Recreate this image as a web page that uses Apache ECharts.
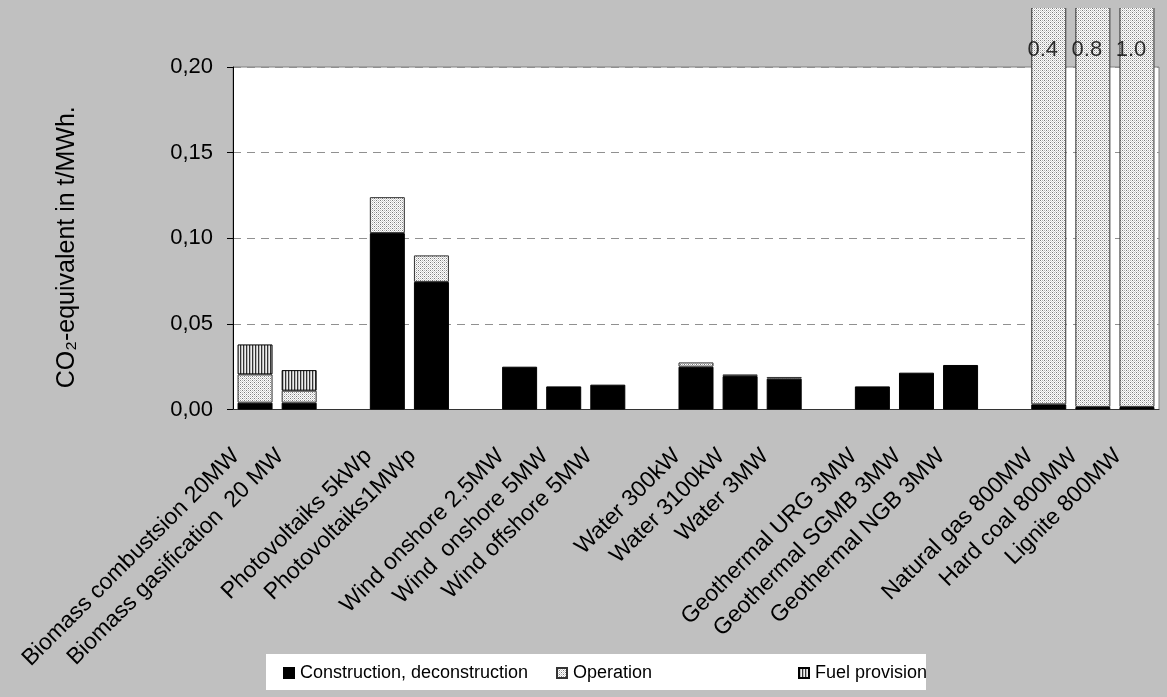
<!DOCTYPE html>
<html>
<head>
<meta charset="utf-8">
<script src="https://cdn.jsdelivr.net/npm/echarts@6/dist/echarts.min.js"></script>
<style>
html,body{margin:0;padding:0;background:#c0c0c0;width:1167px;height:697px;overflow:hidden;}
#chart{position:absolute;left:0;top:8px;width:1167px;height:689px;}
</style>
</head>
<body>
<div id="chart"></div>
<script>
// ---- data ----
const categories = ['Biomass combustsion 20MW','Biomass gasification  20 MW','',
  'Photovoltaiks 5kWp','Photovoltaiks1MWp','',
  'Wind onshore 2,5MW','Wind  onshore 5MW','Wind offshore 5MW','',
  'Water 300kW','Water 3100kW','Water 3MW','',
  'Geothermal URG 3MW','Geothermal SGMB 3MW','Geothermal NGB 3MW','',
  'Natural gas 800MW','Hard coal 800MW','Lignite 800MW'];
const construction = [0.004,0.004,null, 0.103,0.0745,null, 0.025,0.0135,0.0145,null, 0.025,0.0195,0.018,null, 0.0135,0.0215,0.026,null, 0.003,0.0015,0.0015];
const operation    = [0.0165,0.007,null, 0.021,0.0155,null, null,null,null,null, 0.0025,0.001,0.001,null, null,null,null,null, 0.397,0.7985,0.9985];
const fuel         = [0.0175,0.012,null, null,null,null, null,null,null,null, null,null,null,null, null,null,null,null, null,null,null];
const totalLabels  = ['0.4','0.8','1.0'];
const totalLabelCats = ['Natural gas 800MW','Hard coal 800MW','Lignite 800MW'];
const yTicks = ['0,00','0,05','0,10','0,15','0,20'];
const seriesNames = ['Construction, deconstruction','Operation','Fuel provision'];

// ---- patterns ----
function makeTile(w, h, draw){
  const c = document.createElement('canvas'); c.width = w; c.height = h;
  const ctx = c.getContext('2d'); draw(ctx); return c;
}
const dotTile = makeTile(4,4,ctx=>{
  ctx.fillStyle='#ffffff'; ctx.fillRect(0,0,4,4);
  ctx.fillStyle='#7a7a7a'; ctx.fillRect(0,0,1,1); ctx.fillRect(2,2,1,1);
  ctx.fillStyle='#b4b4b4'; ctx.fillRect(2,0,1,1); ctx.fillRect(0,2,1,1);
  ctx.fillStyle='#d4d4d4'; ctx.fillRect(1,1,1,1); ctx.fillRect(3,3,1,1); ctx.fillRect(1,3,1,1); ctx.fillRect(3,1,1,1);
});
const stripeTile = makeTile(3,1,ctx=>{
  ctx.fillStyle='#333333'; ctx.fillRect(0,0,1,1);
  ctx.fillStyle='#b8b8b8'; ctx.fillRect(1,0,1,1);
  ctx.fillStyle='#eeeeee'; ctx.fillRect(2,0,1,1);
});
const opColor = {image: dotTile, repeat: 'repeat'};
const fuelColor = {image: stripeTile, repeat: 'repeat'};

const FONT = 'Liberation Sans, Arial, sans-serif';
const chart = echarts.init(document.getElementById('chart'), null, {renderer:'canvas'});

const labelLevel = 0.21;
const labelData = totalLabelCats.map((c,i)=>({value:[categories.indexOf(c), labelLevel], name: totalLabels[i]}));

function legendAt(left, name){
  return {
    left: left, top: 656, data:[name], itemWidth: 10, itemHeight: 10, itemGap: 0,
    icon: 'rect', padding: 0, selectedMode: false,
    textStyle:{fontFamily:FONT, fontSize:18, color:'#000', padding:[0,0,0,1]}
  };
}

chart.setOption({
  backgroundColor: '#c0c0c0',
  animation: false,
  graphic: [{type:'rect', left: 266, top: 646, shape:{width:660, height:36}, style:{fill:'#fff'}, z: -1}],
  legend: [legendAt(283, seriesNames[0]), legendAt(556, seriesNames[1]), legendAt(798, seriesNames[2])],
  grid: {left: 233, right: 8, top: 59, bottom: 287.5, show: true, backgroundColor:'#fff', borderColor:'#808080', borderWidth:1},
  xAxis: {
    type:'category', data: categories,
    axisLine:{lineStyle:{color:'#333', width:1}},
    axisTick:{show:false},
    axisLabel:{interval:0, rotate:45, fontFamily:FONT, fontSize:23, color:'#000', margin:24, padding:[0,27,0,0]}
  },
  yAxis: {
    type:'value', min:0, max:0.2, interval:0.05,
    name:'CO₂-equivalent in t/MWh.', nameLocation:'middle', nameGap:153, nameRotate:90,
    nameTextStyle:{fontFamily:FONT, fontSize:25, color:'#000', padding:[0,18,0,0]},
    axisLine:{show:true, lineStyle:{color:'#000'}},
    axisTick:{show:true, length:6, lineStyle:{color:'#000'}},
    axisLabel:{fontFamily:FONT, fontSize:22, color:'#000', margin:20,
      formatter:(v)=> yTicks[Math.round(v/0.05)]},
    splitLine:{show:true, lineStyle:{color:'#909090', type:[8,6]}}
  },
  series: [
    {name:seriesNames[0], type:'bar', stack:'t', data: construction, barWidth:35, clip:false,
      itemStyle:{color:'#000', borderColor:'#000', borderWidth:1}},
    {name:seriesNames[1], type:'bar', stack:'t', data: operation, barWidth:35, clip:false,
      itemStyle:{color:opColor, borderColor:'#333', borderWidth:1}},
    {name:seriesNames[2], type:'bar', stack:'t', data: fuel, barWidth:35, clip:false,
      itemStyle:{color:fuelColor, borderColor:'#000', borderWidth:1}},
    {type:'scatter', data: labelData, symbolSize:0, clip:false, silent:true, z:10,
      label:{show:true, position:'inside', offset:[-6,0], formatter:(p)=>p.name, fontFamily:FONT, fontSize:22, color:'#000'}}
  ]
});
</script>
</body>
</html>
